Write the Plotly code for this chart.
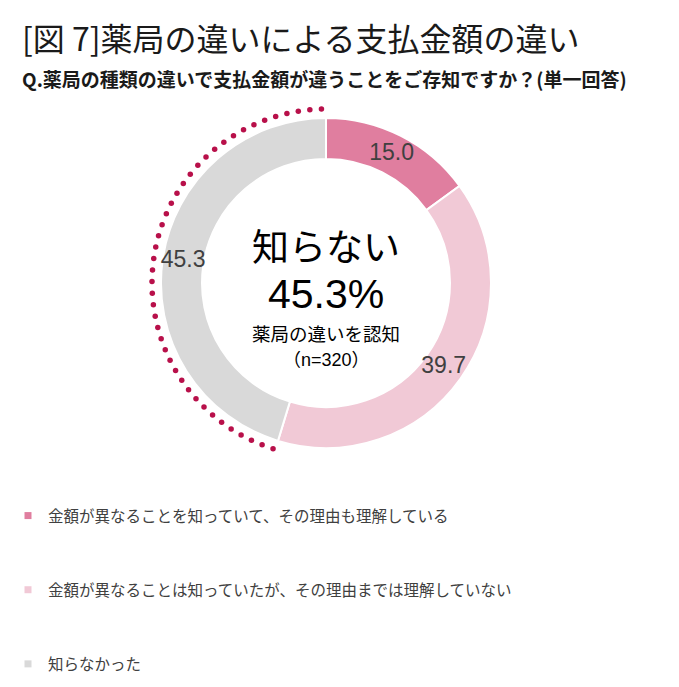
import numpy as np
import plotly.graph_objects as go

# ---- data ----
categories = [
    "金額が異なることを知っていて、その理由も理解している",
    "金額が異なることは知っていたが、その理由までは理解していない",
    "知らなかった",
]
values = [15.0, 39.7, 45.3]
highlight_index = 2  # 知らなかった
n_respondents = 320

title_text = "[図 7]薬局の違いによる支払金額の違い"
subtitle_text = "Q.薬局の種類の違いで支払金額が違うことをご存知ですか？(単一回答)"
center_label = "知らない"
center_sub = "薬局の違いを認知"

# ---- style ----
colors = ["#E07E9F", "#F1C9D6", "#D9D9D9"]
dot_color = "#B8104A"
W, H = 679, 687
cx, cy = 326, 283
r_out = 165
r_in = 124
r_dots = 174
R_MAX = 180
FONT = "Liberation Sans, Noto Sans CJK JP, sans-serif"
CJK = "Noto Sans CJK JP, sans-serif"


def px_dom_x(a, b):
    return [a / W, b / W]


def px_dom_y(top, bottom):
    return [1 - bottom / H, 1 - top / H]


fig = go.Figure()

total = sum(values)
cum = np.cumsum([0] + values)
mid_deg = [(cum[i] + cum[i + 1]) / 2 / total * 360 for i in range(len(values))]
width_deg = [v / total * 360 for v in values]

# donut ring as polar bars
for i, (name, v, c) in enumerate(zip(categories, values, colors)):
    fig.add_trace(go.Barpolar(
        r=[r_out - r_in], base=[r_in], theta=[mid_deg[i]], width=[width_deg[i]],
        marker=dict(color=c, line=dict(color="white", width=2)),
        name=name, showlegend=False,
        hovertemplate=f"{name}: {v:.1f}%<extra></extra>",
    ))

# slice value labels at the middle of each ring segment
fig.add_trace(go.Scatterpolar(
    r=[(r_out + r_in) / 2] * len(values),
    theta=mid_deg,
    mode="text",
    text=[f"{v:.1f}" for v in values],
    textfont=dict(size=23, color="#404040", family=FONT),
    showlegend=False,
    hoverinfo="skip",
))

# dotted arc around the highlighted segment
start_deg = cum[highlight_index] / total * 360
end_deg = cum[highlight_index + 1] / total * 360
arc_len = np.deg2rad(end_deg - start_deg) * r_dots
n_dots = int(round(arc_len / 11.5))
theta = np.linspace(start_deg + 0.8, end_deg - 1.5, n_dots)
fig.add_trace(go.Scatterpolar(
    r=[r_dots] * n_dots,
    theta=theta,
    mode="markers",
    marker=dict(size=5.5, color=dot_color),
    showlegend=False,
    hoverinfo="skip",
))

# legend entries (one group each so spacing can be set)
for name, c in zip(categories, colors):
    fig.add_trace(go.Scatterpolar(
        r=[None], theta=[None], mode="markers",
        marker=dict(symbol="square", size=7, color=c),
        name=name, legendgroup=name, showlegend=True,
    ))

fig.update_layout(
    width=W, height=H,
    margin=dict(l=0, r=0, t=0, b=0),
    paper_bgcolor="white",
    plot_bgcolor="white",
    polar=dict(
        domain=dict(x=px_dom_x(cx - R_MAX, cx + R_MAX), y=px_dom_y(cy - R_MAX, cy + R_MAX)),
        bgcolor="rgba(0,0,0,0)",
        bargap=0,
        radialaxis=dict(visible=False, range=[0, R_MAX]),
        angularaxis=dict(visible=False, rotation=90, direction="clockwise"),
    ),
    legend=dict(
        x=8 / W, xanchor="left",
        y=1 - 499 / H, yanchor="top",
        font=dict(size=15.5, color="#404040", family=CJK),
        tracegroupgap=51,
        traceorder="grouped",
        bgcolor="rgba(0,0,0,0)",
    ),
    annotations=[
        dict(text=title_text, x=20 / W, y=1 - 37 / H, xref="paper", yref="paper",
             xanchor="left", yanchor="middle", showarrow=False,
             font=dict(size=32, color="#1a1a1a", family=CJK)),
        dict(text="<b>" + subtitle_text + "</b>", x=20 / W, y=1 - 78 / H, xref="paper", yref="paper",
             xanchor="left", yanchor="middle", showarrow=False,
             font=dict(size=19, color="#1a1a1a", family=CJK)),
        dict(text=center_label, x=cx / W, y=1 - 245 / H, xref="paper", yref="paper",
             showarrow=False, font=dict(size=37, color="black", family=CJK)),
        dict(text=f"{values[highlight_index]:.1f}%", x=cx / W, y=1 - 294 / H, xref="paper", yref="paper",
             showarrow=False, font=dict(size=41, color="black", family=FONT)),
        dict(text=center_sub, x=cx / W, y=1 - 333 / H, xref="paper", yref="paper",
             showarrow=False, font=dict(size=18.5, color="black", family=CJK)),
        dict(text=f"（n={n_respondents}）", x=cx / W, y=1 - 360 / H, xref="paper", yref="paper",
             showarrow=False, font=dict(size=18, color="black", family=FONT)),
    ],
)

fig.write_html("out.html", config={"displayModeBar": False},
               post_script="document.body.style.margin='0';")
